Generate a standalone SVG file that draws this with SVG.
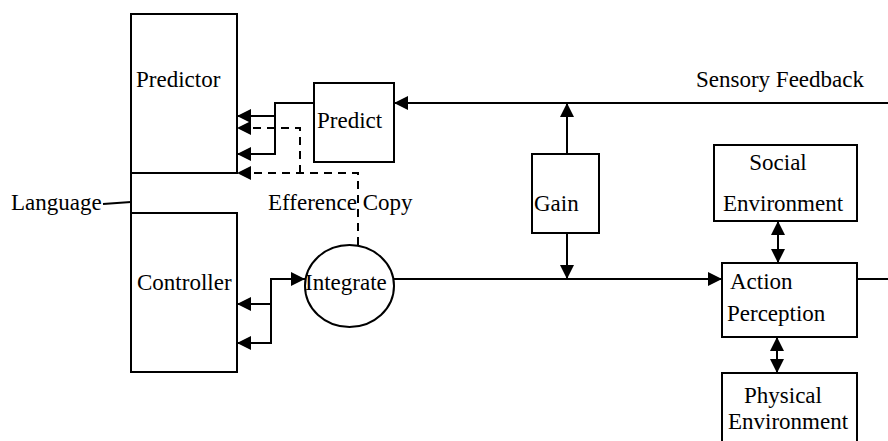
<svg xmlns="http://www.w3.org/2000/svg" width="888" height="441" viewBox="0 0 888 441">
<style>
.box{fill:#fff;stroke:#000;stroke-width:2}
.ln{fill:none;stroke:#000;stroke-width:2}
.dash{fill:none;stroke:#000;stroke-width:2;stroke-dasharray:8,6}
.t{font-family:'Liberation Serif','Times New Roman',Times,serif;font-size:23px;fill:#000}
</style>
<defs>
<marker id="ah" markerUnits="userSpaceOnUse" markerWidth="14" markerHeight="14" refX="14" refY="7" orient="auto-start-reverse">
<path d="M0,0 L14,7 L0,14 z" fill="#000"/>
</marker>
</defs>
<rect width="888" height="441" fill="#fff"/>
<g id="connectors">
<line class="ln" x1="103" y1="204" x2="131" y2="202"/>
<line class="ln" x1="131" y1="173" x2="131" y2="213"/>
<line class="ln" x1="888" y1="103" x2="394" y2="103" marker-end="url(#ah)"/>
<polyline class="ln" points="314,103 275,103 275,154 237,154" marker-end="url(#ah)"/>
<line class="ln" x1="275" y1="116" x2="237" y2="116" marker-end="url(#ah)"/>
<polyline class="dash" points="358,245 358,173 237,173" marker-end="url(#ah)"/>
<polyline class="dash" points="300,173 300,128 237,128" marker-end="url(#ah)"/>
<polyline class="ln" points="237,343 271,343 271,279 305,279" marker-end="url(#ah)" marker-start="url(#ah)"/>
<line class="ln" x1="271" y1="304" x2="237" y2="304" marker-end="url(#ah)"/>
<line class="ln" x1="394" y1="279" x2="722" y2="279" marker-end="url(#ah)"/>
<line class="ln" x1="857" y1="279" x2="888" y2="279"/>
<line class="ln" x1="567" y1="154" x2="567" y2="103" marker-end="url(#ah)"/>
<line class="ln" x1="567" y1="233" x2="567" y2="279" marker-end="url(#ah)"/>
<line class="ln" x1="778" y1="221" x2="778" y2="263" marker-start="url(#ah)" marker-end="url(#ah)"/>
<line class="ln" x1="777" y1="337" x2="777" y2="373" marker-start="url(#ah)" marker-end="url(#ah)"/>
</g>
<g id="predictor">
<rect class="box" x="131" y="14" width="106" height="159"/>
<text class="t" font-family="Liberation Serif, serif" x="136" y="87">Predictor</text>
</g>
<g id="controller">
<rect class="box" x="131" y="213" width="106" height="159"/>
<text class="t" font-family="Liberation Serif, serif" x="137" y="290">Controller</text>
</g>
<g id="language">
<text class="t" font-family="Liberation Serif, serif" x="11" y="210">Language</text>
</g>
<g id="predict">
<rect class="box" x="314" y="83" width="80" height="79"/>
<text class="t" font-family="Liberation Serif, serif" x="317" y="128">Predict</text>
</g>
<g id="efference-copy">
<text class="t" font-family="Liberation Serif, serif" x="268" y="210">Efference Copy</text>
</g>
<g id="integrate">
<ellipse class="box" cx="349.5" cy="286" rx="44.5" ry="41"/>
<text class="t" font-family="Liberation Serif, serif" x="305" y="290">Integrate</text>
</g>
<g id="sensory-feedback">
<text class="t" font-family="Liberation Serif, serif" x="780" y="87" text-anchor="middle">Sensory Feedback</text>
</g>
<g id="gain">
<rect class="box" x="532" y="154" width="67" height="79"/>
<text class="t" font-family="Liberation Serif, serif" x="534" y="211">Gain</text>
</g>
<g id="social-environment">
<rect class="box" x="714" y="145" width="143" height="76"/>
<text class="t" font-family="Liberation Serif, serif" x="778" y="170" text-anchor="middle">Social</text>
<text class="t" font-family="Liberation Serif, serif" x="783" y="211" text-anchor="middle">Environment</text>
</g>
<g id="action-perception">
<rect class="box" x="722" y="263" width="135" height="74"/>
<text class="t" font-family="Liberation Serif, serif" x="730" y="289">Action</text>
<text class="t" font-family="Liberation Serif, serif" x="727" y="321">Perception</text>
</g>
<g id="physical-environment">
<rect class="box" x="722" y="373" width="135" height="80"/>
<text class="t" font-family="Liberation Serif, serif" x="783" y="403" text-anchor="middle">Physical</text>
<text class="t" font-family="Liberation Serif, serif" x="788" y="429" text-anchor="middle">Environment</text>
</g>
</svg>
